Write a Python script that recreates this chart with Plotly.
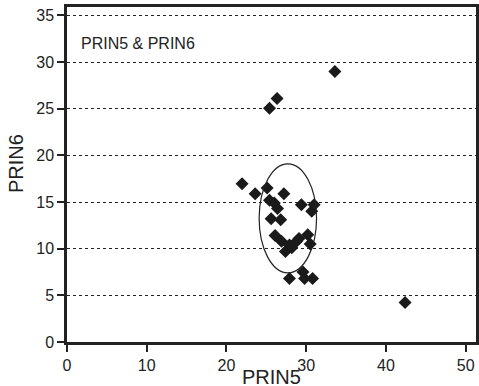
import plotly.graph_objects as go

prin5 = [21.96, 23.6, 25.1, 25.4, 26.0, 26.4, 27.2, 29.4, 31.0, 30.7, 25.6, 26.8,
         26.1, 26.9, 27.9, 28.8, 27.4, 28.2, 30.2, 30.5, 29.1,
         27.9, 29.6, 29.8, 30.8,
         33.6, 26.35, 25.4, 42.4]
prin6 = [16.95, 15.9, 16.5, 15.2, 14.9, 14.3, 15.9, 14.7, 14.7, 14.0, 13.2, 13.1,
         11.4, 10.8, 10.4, 10.8, 9.7, 10.1, 11.5, 10.5, 11.1,
         6.8, 7.5, 6.8, 6.8,
         29.0, 26.1, 25.05, 4.24]

ellipse_center = (27.7, 13.25)
ellipse_radius = (3.6, 5.84)

x_ticks = [0, 10, 20, 30, 40, 50]
y_ticks = [0, 5, 10, 15, 20, 25, 30, 35]

font_family = "Liberation Sans, Arial, sans-serif"

fig = go.Figure()
fig.add_trace(go.Scatter(
    x=prin5, y=prin6, mode="markers",
    marker=dict(symbol="diamond", size=10, color="#1a1a1a", line=dict(width=0)),
    showlegend=False,
))

fig.add_shape(type="circle", xref="x", yref="y",
              x0=ellipse_center[0] - ellipse_radius[0], x1=ellipse_center[0] + ellipse_radius[0],
              y0=ellipse_center[1] - ellipse_radius[1], y1=ellipse_center[1] + ellipse_radius[1],
              line=dict(color="#222222", width=1.2))

fig.add_annotation(text="PRIN5 &amp; PRIN6", xref="paper", yref="paper",
                   x=0.03, y=0.892, xanchor="left", yanchor="middle", showarrow=False,
                   font=dict(size=16, color="#222222", family=font_family))

fig.add_annotation(text="PRIN5", xref="paper", yref="paper",
                   x=0.5, y=-0.066, xanchor="center", yanchor="top", showarrow=False,
                   font=dict(size=20, color="#222222", family=font_family))
fig.add_annotation(text="PRIN6", xref="paper", yref="paper", textangle=-90,
                   x=-0.125, y=0.534, xanchor="center", yanchor="middle", showarrow=False,
                   font=dict(size=20, color="#222222", family=font_family))

fig.update_layout(
    width=479, height=386,
    margin=dict(l=67, r=3, t=7, b=44),
    paper_bgcolor="white", plot_bgcolor="white",
    font=dict(family=font_family, color="#222222"),
    xaxis=dict(range=[0, 51.3], tickvals=x_ticks, ticks="outside", ticklen=7, tickwidth=1.5,
               tickcolor="#222222", showgrid=False, zeroline=False, automargin=False,
               showline=True, linecolor="#222222", linewidth=2.5, mirror=True,
               tickfont=dict(size=16)),
    yaxis=dict(range=[0, 35.9], tickvals=y_ticks, ticks="outside", ticklen=7, tickwidth=1.5,
               tickcolor="#222222", showgrid=True, gridcolor="#222222", gridwidth=1,
               griddash="dot", zeroline=False, automargin=False,
               showline=True, linecolor="#222222", linewidth=2.5, mirror=True,
               tickfont=dict(size=16)),
)

fig.write_html("out.html", config={"displayModeBar": False},
               post_script="document.body.style.margin='0';document.body.style.overflow='hidden';")
